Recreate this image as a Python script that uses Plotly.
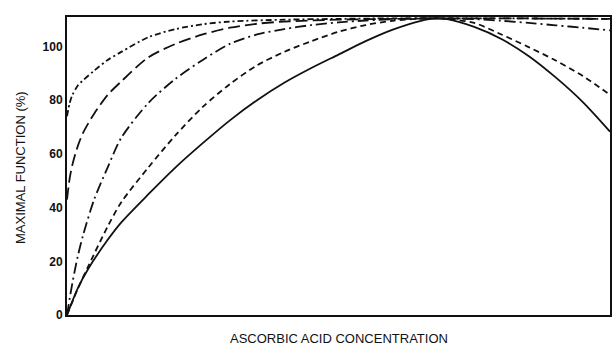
import plotly.graph_objects as go

# x positions (arbitrary concentration units, 0-100 across the axis)
x_solid = [0, 2, 4, 7.5, 10, 15, 20, 25, 30, 35, 40, 45, 50, 55, 60, 65, 68, 70, 75, 80, 85, 90, 95, 100]
y_solid = [0, 10, 17.5, 28, 34.5, 45, 55, 64, 72.5, 80, 86.5, 92, 97, 102, 106.3, 109.5, 110.5, 110.2, 107.3, 102.8, 96.5, 88.5, 79.3, 68.3]

x_dash = [0, 2, 4, 7.5, 10, 15, 20, 25, 30, 35, 40, 45, 50, 55, 60, 65, 68, 70, 75, 80, 85, 90, 95, 100]
y_dash = [0, 9.8, 18.5, 33, 42, 55, 67, 77.5, 86, 93, 98, 102, 105.5, 108, 109.6, 110.4, 110.5, 110.3, 108.8, 104.5, 99.8, 94.8, 89, 82]

x_dashdot = [0, 1, 2, 3, 5, 7.5, 10, 15, 20, 25, 30, 35, 40, 45, 50, 55, 60, 65, 70, 75, 80, 85, 90, 95, 100]
y_dashdot = [0, 12, 22, 30, 43, 55, 66, 79, 88, 95, 101, 104.5, 106.5, 108, 109, 109.7, 110.2, 110.5, 110.5, 110.2, 109.6, 108.8, 107.9, 107, 106]

x_longdash = [0, 0.5, 1, 2, 3, 5, 7.5, 10, 15, 20, 25, 30, 35, 40, 50, 60, 70, 80, 90, 100]
y_longdash = [43, 51, 56, 63, 68, 75, 82, 87, 96, 101, 104.5, 107, 108.5, 109.3, 110, 110.3, 110.5, 110.5, 110.4, 110.3]

x_top = [0, 0.5, 1, 2, 3, 5, 7.5, 10, 15, 20, 25, 30, 40, 50, 60, 70, 80, 90, 100]
y_top = [74, 79, 82, 85.5, 87.5, 91, 95, 98, 103.5, 106.5, 108.3, 109.3, 110, 110.3, 110.5, 110.5, 110.5, 110.4, 110.3]

y_ticks = [0, 20, 40, 60, 80, 100]
y_ticklabels = ["0", "20", "40", "60", "80", "100"]

series = [
    (x_top, y_top, "6px,3px,2px,3px"),
    (x_longdash, y_longdash, "12px,5px"),
    (x_dashdot, y_dashdot, "11px,4px,2px,4px"),
    (x_dash, y_dash, "6px,4px"),
    (x_solid, y_solid, "solid"),
]

fig = go.Figure()
for xs, ys, dash in series:
    fig.add_trace(go.Scatter(x=xs, y=ys, mode="lines",
                             line=dict(color="#111111", width=1.8, dash=dash, shape="spline", smoothing=0.8),
                             showlegend=False, hoverinfo="skip"))

font = dict(family="Liberation Sans, Arial, sans-serif", color="#111111")

fig.update_layout(
    width=614, height=347,
    margin=dict(l=67, r=2, t=17, b=32),
    paper_bgcolor="white", plot_bgcolor="white",
    xaxis=dict(range=[0, 100], showgrid=False, zeroline=False, showticklabels=False, ticks="",
               showline=True, mirror=True, linecolor="#111111", linewidth=2),
    yaxis=dict(range=[0, 111], showgrid=False, zeroline=False, tickvals=y_ticks, ticktext=y_ticklabels,
               ticks="", showline=True, mirror=True, linecolor="#111111", linewidth=2,
               tickfont=dict(size=12, weight="bold", **font)),
    annotations=[
        dict(text="ASCORBIC ACID CONCENTRATION", xref="paper", yref="paper", x=0.5, y=0, yshift=-23,
             xanchor="center", yanchor="middle", showarrow=False, font=dict(size=13, **font)),
        dict(text="MAXIMAL FUNCTION (%)", xref="paper", yref="paper", x=0, xshift=-47, y=0.5, yshift=-2,
             textangle=-90, xanchor="center", yanchor="middle", showarrow=False, font=dict(size=13, **font)),
    ],
)

fig.write_html("out.html", config={"displayModeBar": False},
               post_script="document.body.style.margin='0px';document.body.style.padding='0px';")
